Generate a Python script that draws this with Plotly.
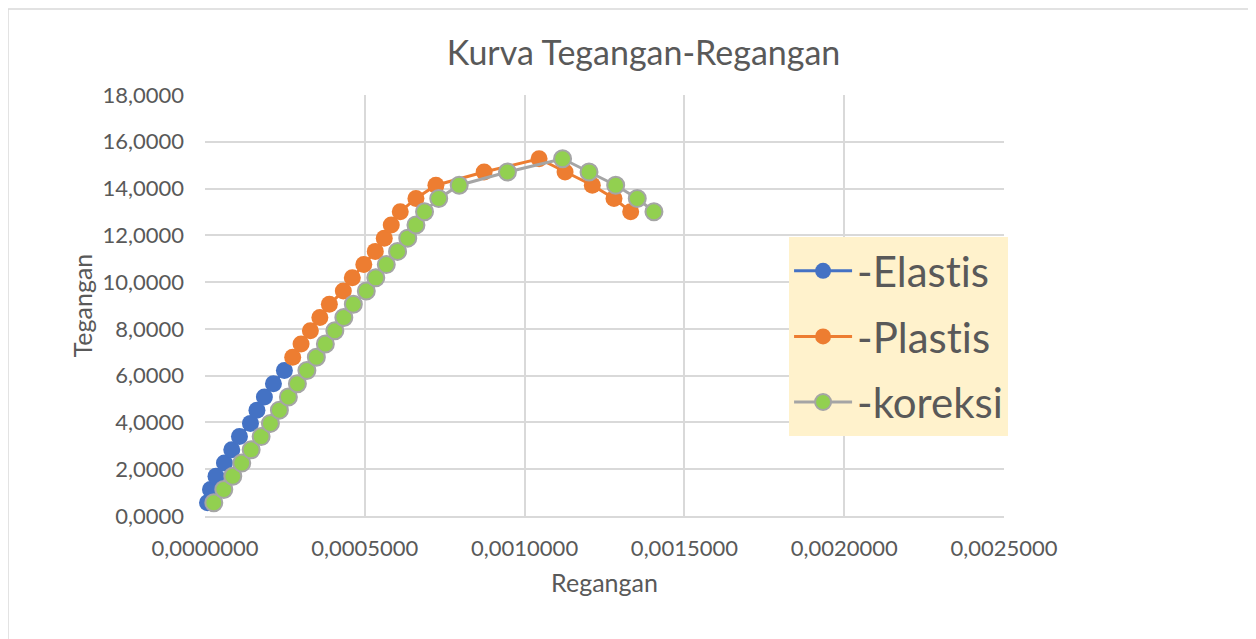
import plotly.graph_objects as go

# Data (strain, stress)
elastis_x = [0.0000078, 0.0000172, 0.0000344, 0.0000609, 0.0000838, 0.0001078,
             0.0001422, 0.0001625, 0.0001859, 0.0002141, 0.0002484]
elastis_y = [0.5657, 1.1314, 1.6971, 2.2628, 2.8285, 3.3942, 3.9599, 4.5256,
             5.0913, 5.6570, 6.2227]

plastis_x = [0.0002744, 0.0003006, 0.0003297, 0.0003594, 0.0003891, 0.0004328,
             0.0004609, 0.0004969, 0.0005328, 0.0005609, 0.0005828, 0.0006109,
             0.0006600, 0.0007225, 0.0008734, 0.0010453, 0.0011266, 0.0012119,
             0.0012797, 0.0013319]
plastis_y = [6.7884, 7.3541, 7.9198, 8.4855, 9.0512, 9.6169, 10.1826, 10.7483,
             11.3140, 11.8797, 12.4454, 13.0111, 13.5768, 14.1425, 14.7082,
             15.2739, 14.7082, 14.1425, 13.5768, 13.0111]

koreksi_x = [0.0000275, 0.0000588, 0.0000869, 0.0001150, 0.0001444, 0.0001756,
             0.0002047, 0.0002328, 0.0002609, 0.0002891, 0.0003188, 0.0003484,
             0.0003766, 0.0004063, 0.0004344, 0.0004641, 0.0005047, 0.0005344,
             0.0005672, 0.0006025, 0.0006344, 0.0006600, 0.0006869, 0.0007313,
             0.0007953, 0.0009463, 0.0011188, 0.0012016, 0.0012850, 0.0013525,
             0.0014047]
koreksi_y = [0.5657, 1.1314, 1.6971, 2.2628, 2.8285, 3.3942, 3.9599, 4.5256,
             5.0913, 5.6570, 6.2227, 6.7884, 7.3541, 7.9198, 8.4855, 9.0512,
             9.6169, 10.1826, 10.7483, 11.3140, 11.8797, 12.4454, 13.0111,
             13.5768, 14.1425, 14.7082, 15.2739, 14.7082, 14.1425, 13.5768,
             13.0111]

FONT = "Lato, Open Sans, sans-serif"
GREY_TXT = "#595959"
GRID = "#D9D9D9"

fig = go.Figure()

fig.add_trace(go.Scatter(
    x=elastis_x, y=elastis_y, name="-Elastis", mode="lines+markers",
    line=dict(color="#4472C4", width=3),
    marker=dict(color="#4472C4", size=17),
    legendgroup="a", cliponaxis=False,
))
fig.add_trace(go.Scatter(
    x=plastis_x, y=plastis_y, name="-Plastis", mode="lines+markers",
    line=dict(color="#ED7D31", width=3),
    marker=dict(color="#ED7D31", size=17),
    legendgroup="b", cliponaxis=False,
))
fig.add_trace(go.Scatter(
    x=koreksi_x, y=koreksi_y, name="-koreksi", mode="lines+markers",
    line=dict(color="#A5A5A5", width=3),
    marker=dict(color="#92D050", size=17, line=dict(color="#A5A5A5", width=2)),
    legendgroup="c", cliponaxis=False,
))

# outer chart frame
fig.add_shape(type="rect", xref="paper", yref="paper",
              x0=-0.2466, x1=1.33, y0=-0.32, y1=1.2043,
              line=dict(color=GRID, width=1.5), fillcolor="rgba(0,0,0,0)",
              layer="below")

fig.update_layout(
    width=1256, height=639,
    margin=dict(l=197, r=260, t=87, b=131),
    paper_bgcolor="white", plot_bgcolor="white",
    separators=",.",
    font=dict(family=FONT, color=GREY_TXT, size=22),
    title=dict(text="Kurva Tegangan-Regangan", x=0.506, xref="container",
               xanchor="center", y=0.9296, yref="container", yanchor="middle",
               font=dict(size=34, color=GREY_TXT, family=FONT)),
    showlegend=True,
    legend=dict(x=0.731, y=0.6627, xanchor="left", yanchor="top",
                bgcolor="#FFF2CC", borderwidth=0, tracegroupgap=8,
                itemwidth=58,
                font=dict(size=42, color=GREY_TXT, family=FONT)),
    xaxis=dict(
        range=[0, 0.0025], dtick=0.0005, tick0=0, tickformat=".7f",
        showgrid=True, gridcolor=GRID, gridwidth=1.5,
        zeroline=False, showline=True, linecolor=GRID, linewidth=1.5,
        ticks="", ticklabelstandoff=12,
        title=dict(text="Regangan", font=dict(size=25), standoff=14),
    ),
    yaxis=dict(
        range=[0, 18], dtick=2, tick0=0, tickformat=".4f",
        showgrid=True, gridcolor=GRID, gridwidth=1.5,
        zeroline=False, showline=False,
        ticks="", ticklabelstandoff=20,
        title=dict(text="Tegangan", font=dict(size=25), standoff=2),
    ),
)

# Calibri-like rendering: no "ti" ligatures in the Lato glyphs
no_liga = (
    "var s=document.createElement('style');"
    "s.textContent='text{font-variant-ligatures:none !important;}';"
    "document.head.appendChild(s);"
)

fig.write_html("out.html", post_script=no_liga)
